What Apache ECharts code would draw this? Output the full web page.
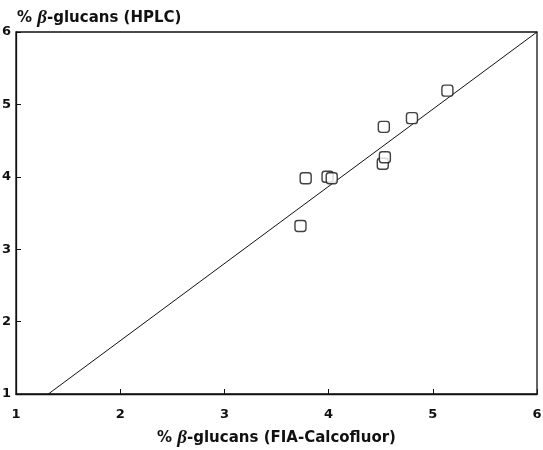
<!DOCTYPE html>
<html>
<head>
<meta charset="utf-8">
<script src="https://cdn.jsdelivr.net/npm/echarts@6/dist/echarts.min.js"></script>
<style>
  html, body { margin: 0; padding: 0; background: #fff; }
  #chart { width: 543px; height: 450px; }
</style>
</head>
<body>
<div id="chart"></div>
<script>
// FIA-Calcofluor vs HPLC beta-glucan values
var fiaValues = [3.73, 3.78, 3.99, 4.03, 4.52, 4.54, 4.53, 4.80, 5.14];
var hplcValues = [3.32, 3.98, 4.00, 3.98, 4.18, 4.27, 4.69, 4.81, 5.19];
// regression line end points
var fitX = [1.31, 6];
var fitY = [1, 6];
var xTicks = [1, 2, 3, 4, 5, 6];
var yTicks = [1, 2, 3, 4, 5, 6];

var points = fiaValues.map(function (x, i) { return [x, hplcValues[i]]; });
var fitLine = fitX.map(function (x, i) { return [x, fitY[i]]; });

var font = '"DejaVu Sans", sans-serif';
var chart = echarts.init(document.getElementById('chart'));

var betaStyle = { fontStyle: 'italic', fontWeight: 'bold', fontSize: 19, fontFamily: '"Liberation Serif", serif', color: '#111' };

var axisCommon = {
  type: 'value',
  min: 1,
  max: 6,
  interval: 1,
  axisLine: { show: true, lineStyle: { color: '#111', width: 1.3 } },
  axisTick: { show: true, inside: true, length: 5, lineStyle: { color: '#111' } },
  splitLine: { show: false },
  axisLabel: { color: '#111', fontFamily: font, fontWeight: 'bold', fontSize: 13 }
};

chart.setOption({
  animation: false,
  backgroundColor: '#fff',
  title: {
    text: '% {b|β}-glucans (HPLC)',
    left: 12,
    top: 4,
    textStyle: {
      color: '#111', fontFamily: font, fontWeight: 'bold', fontSize: 15,
      rich: { b: betaStyle }
    }
  },
  grid: { left: 16, right: 6, top: 32, bottom: 56, outerBoundsMode: 'none',
    show: true, borderColor: '#111', borderWidth: 1.3 },
  xAxis: Object.assign({}, axisCommon, {
    axisLabel: Object.assign({}, axisCommon.axisLabel, { margin: 14,
      formatter: function (v) { return xTicks.indexOf(v) >= 0 ? String(v) : ''; } }),
    name: '% {b|β}-glucans (FIA-Calcofluor)',
    nameLocation: 'middle',
    nameGap: 35,
    nameTextStyle: {
      color: '#111', fontFamily: font, fontWeight: 'bold', fontSize: 15,
      rich: { b: betaStyle }
    }
  }),
  yAxis: Object.assign({}, axisCommon, {
    axisLabel: Object.assign({}, axisCommon.axisLabel, { margin: 5,
      formatter: function (v) { return yTicks.indexOf(v) >= 0 ? String(v) : ''; } })
  }),
  series: [
    {
      type: 'line',
      data: fitLine,
      showSymbol: false,
      lineStyle: { color: '#111', width: 1 },
      z: 1
    },
    {
      type: 'scatter',
      data: points,
      symbol: 'roundRect',
      symbolSize: 11,
      itemStyle: { color: '#fff', borderColor: '#111', borderWidth: 1.4 },
      z: 2
    }
  ]
});
</script>
</body>
</html>
